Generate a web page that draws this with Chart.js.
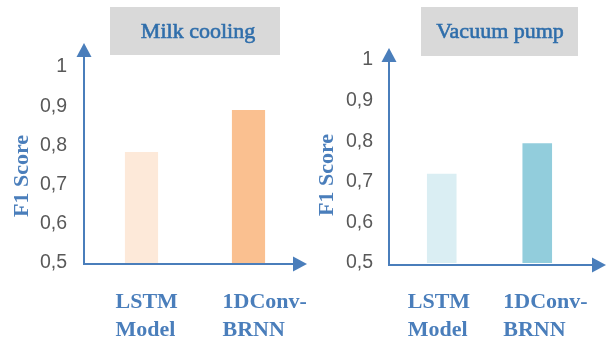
<!DOCTYPE html>
<html>
<head>
<meta charset="utf-8">
<script src="https://cdn.jsdelivr.net/npm/chart.js@4"></script>
<style>
  html, body { margin: 0; padding: 0; background: #ffffff; }
  #wrap { position: relative; width: 608px; height: 339px; }
  #wrap canvas { position: absolute; left: 0; top: 0; }
</style>
</head>
<body>
<div id="wrap">
  <canvas id="milk" width="608" height="339"></canvas>
  <canvas id="pump" width="608" height="339"></canvas>
</div>
<script>
// F1 scores per model, one array per machine
const categories = [['LSTM', 'Model'], ['1DConv-', 'BRNN']];
const milkCoolingF1 = [0.783, 0.89];
const vacuumPumpF1 = [0.72, 0.795];
const yTickValues = [0.5, 0.6, 0.7, 0.8, 0.9, 1];
const panelTitles = ['Milk cooling', 'Vacuum pump'];
const axisTitle = 'F1 Score';

const AXIS_BLUE = '#4a7ebb';
const LABEL_BLUE = '#4a7ebb';
const TITLE_BLUE = '#2f6eab';
const TICK_GREY = '#595959';

const formatTick = v => (v === 1 ? '1' : v.toFixed(1).replace('.', ','));

// Draws the arrowed axes, the grey heading box and the rotated axis title
const panelDecor = {
  id: 'panelDecor',
  afterDatasetsDraw(chart, args, o) {
    const ctx = chart.ctx;
    ctx.save();

    // heading box
    ctx.fillStyle = '#d9d9d9';
    ctx.fillRect(o.box[0], o.box[1], o.box[2] - o.box[0], o.box[3] - o.box[1]);
    ctx.fillStyle = TITLE_BLUE;
    ctx.strokeStyle = TITLE_BLUE;
    ctx.lineWidth = 0.6;
    ctx.font = '22px "Liberation Serif", serif';
    ctx.textAlign = 'center';
    ctx.textBaseline = 'alphabetic';
    ctx.fillText(o.title, o.titleX, o.titleY);
    ctx.strokeText(o.title, o.titleX, o.titleY);

    // axes with arrow heads
    ctx.strokeStyle = AXIS_BLUE;
    ctx.fillStyle = AXIS_BLUE;
    ctx.lineWidth = 2;
    const ax = o.axisX, ay = o.axisY, head = 14, half = 7.5;
    ctx.beginPath();
    ctx.moveTo(ax, ay);
    ctx.lineTo(ax, o.yTip + head);
    ctx.moveTo(ax - 1, ay);
    ctx.lineTo(o.xTip - head, ay);
    ctx.stroke();
    ctx.beginPath();
    ctx.moveTo(ax, o.yTip);
    ctx.lineTo(ax - half, o.yTip + head);
    ctx.lineTo(ax + half, o.yTip + head);
    ctx.closePath();
    ctx.fill();
    ctx.beginPath();
    ctx.moveTo(o.xTip, ay);
    ctx.lineTo(o.xTip - head, ay - half);
    ctx.lineTo(o.xTip - head, ay + half);
    ctx.closePath();
    ctx.fill();

    // rotated y title
    ctx.translate(o.yTitleX, o.yTitleY);
    ctx.rotate(-Math.PI / 2);
    ctx.fillStyle = LABEL_BLUE;
    ctx.font = 'bold 22px "Liberation Serif", serif';
    ctx.textAlign = 'center';
    ctx.textBaseline = 'middle';
    ctx.fillText(axisTitle, 0, 0);
    ctx.restore();
  }
};

function buildPanel(id, values, colors, layout, decor) {
  return new Chart(document.getElementById(id), {
    type: 'bar',
    data: {
      labels: categories,
      datasets: [{
        data: values,
        backgroundColor: colors,
        borderWidth: 0,
        categoryPercentage: 1,
        barPercentage: 0.31
      }]
    },
    plugins: [panelDecor],
    options: {
      responsive: false,
      animation: false,
      devicePixelRatio: 1,
      layout: { padding: layout.padding },
      plugins: {
        legend: { display: false },
        tooltip: { enabled: false },
        panelDecor: decor
      },
      scales: {
        x: {
          grid: { display: false, drawTicks: false },
          border: { display: false },
          ticks: {
            color: LABEL_BLUE,
            font: { family: '"Liberation Serif", serif', size: 22, weight: 'bold', lineHeight: 1.25 },
            padding: layout.xPad,
            align: 'start',
            labelOffset: layout.labelOffset,
            maxRotation: 0,
            autoSkip: false
          },
          afterFit: s => { s.height = 76; s.paddingLeft = 0; s.paddingRight = 0; }
        },
        y: {
          min: 0.5,
          max: 1,
          afterBuildTicks: s => { s.ticks = yTickValues.map(v => ({ value: v })); },
          grid: { display: false, drawTicks: false },
          border: { display: false },
          ticks: {
            color: TICK_GREY,
            font: { family: '"Liberation Sans", sans-serif', size: 19.5 },
            padding: 21,
            callback: formatTick
          },
          afterFit: s => { s.width = 88; }
        }
      }
    }
  });
}

buildPanel('milk', milkCoolingF1, ['#fde9d9', '#fac090'],
  { padding: { left: 0, top: 67, right: 306, bottom: 0 }, xPad: 26, labelOffset: -26 },
  { title: panelTitles[0], box: [110, 7, 280, 55], titleX: 198, titleY: 38,
    axisX: 84, axisY: 264, yTip: 43, xTip: 307, yTitleX: 22, yTitleY: 176 });

buildPanel('pump', vacuumPumpF1, ['#daeef3', '#92cddc'],
  { padding: { left: 306, top: 60, right: 23, bottom: 0 }, xPad: 26, labelOffset: -34 },
  { title: panelTitles[1], box: [421, 7, 578, 56], titleX: 500, titleY: 38,
    axisX: 389, axisY: 265, yTip: 48, xTip: 606, yTitleX: 327, yTitleY: 175 });
</script>
</body>
</html>
